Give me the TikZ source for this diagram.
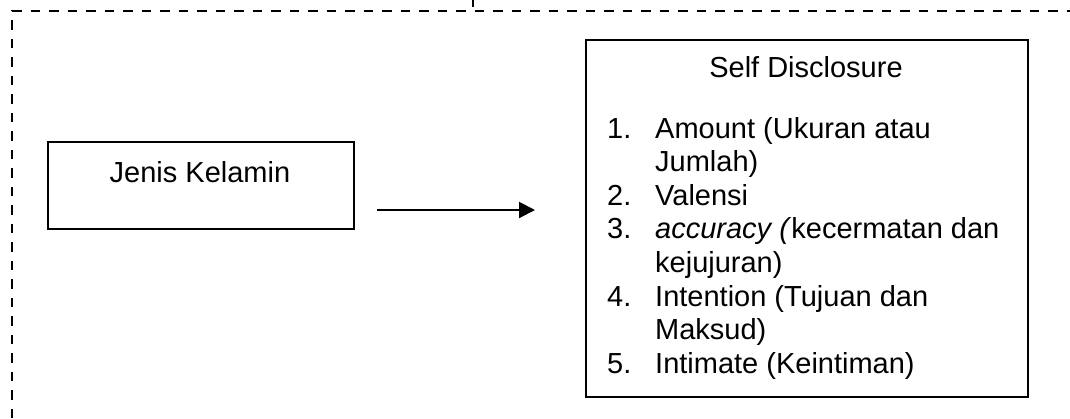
\documentclass[tikz,border=0pt]{standalone}
\usepackage{fontspec}
\setmainfont{Liberation Sans}
\usetikzlibrary{arrows.meta}
\begin{document}
\begin{tikzpicture}[x=1pt,y=-1pt,
  box/.style={draw=black, line width=1.9pt, inner sep=0pt, anchor=north west},
  frame/.style={line width=2.3pt, dash pattern=on 9.5pt off 9pt},
  txt/.style={inner sep=0pt, font=\fontsize{29}{34}\selectfont, anchor=base west},
  ttl/.style={txt, anchor=base},
  link/.style={line width=2pt, -{Triangle[length=16pt,width=16pt]}}]
\useasboundingbox (0,0) rectangle (1070,418);
% dashed frame (open to the right and bottom)
\draw[frame] (12,418) -- (12,11) -- (1070,11);
\coordinate (tk1) at (473,0);
\coordinate (tk2) at (473,7);
\draw[line width=2.3pt] (tk1) -- (tk2);
% left box
\node[box, minimum width=306pt, minimum height=87pt] (jk) at (47,141) {};
\node[ttl] (jkt) at (200,182) {Jenis Kelamin};
% right box
\node[box, minimum width=442pt, minimum height=357pt] (sd) at (585,39) {};
\node[ttl] (sdt) at (806,77) {Self Disclosure};
\node[txt] (n1) at (607,138) {1.};
\node[txt] (l1) at (655,138) {Amount (Ukuran atau};
\node[txt] (l1b) at (655,171.6) {Jumlah)};
\node[txt] (n2) at (607,205.2) {2.};
\node[txt] (l2) at (655,205.2) {Valensi};
\node[txt] (n3) at (607,238.8) {3.};
\node[txt] (l3) at (655,238.8) {\textit{accuracy (}kecermatan dan};
\node[txt] (l3b) at (655,272.4) {kejujuran)};
\node[txt] (n4) at (607,306) {4.};
\node[txt] (l4) at (655,306) {Intention (Tujuan dan};
\node[txt] (l4b) at (655,339.6) {Maksud)};
\node[txt] (n5) at (607,373.2) {5.};
\node[txt] (l5) at (655,373.2) {Intimate (Keintiman)};
% arrow
\coordinate (a1) at (377,210);
\coordinate (a2) at (535,210);
\draw[link] (a1) -- (a2);
\end{tikzpicture}
\end{document}
